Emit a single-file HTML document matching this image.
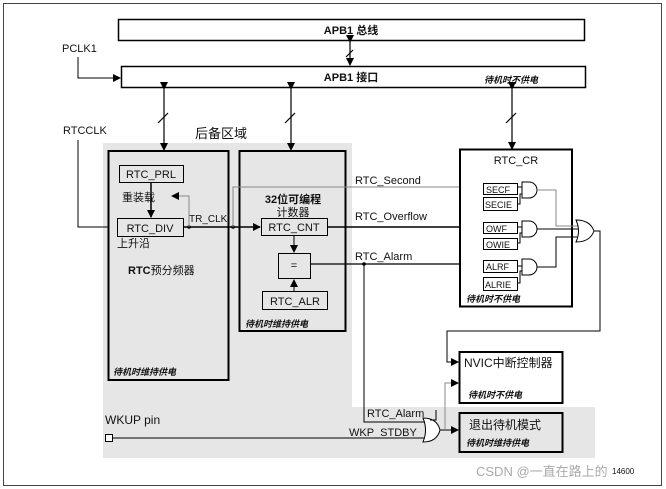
<!DOCTYPE html>
<html><head><meta charset="utf-8"><style>
html,body{margin:0;padding:0;background:#fff;}
svg{display:block;font-family:"Liberation Sans","Noto Sans CJK SC",sans-serif;}
.t{font-size:11px;fill:#111;}
.b{font-weight:bold;}
.i{font-size:9px;font-style:italic;font-weight:bold;fill:#111;}
</style></head><body>
<svg width="666" height="489" viewBox="0 0 666 489" xmlns="http://www.w3.org/2000/svg">
<defs>
<marker id="a" markerWidth="8" markerHeight="8" refX="7" refY="4" orient="auto" markerUnits="userSpaceOnUse"><path d="M0,0 L8,4 L0,8 z" fill="#000"/></marker>
<marker id="ag" markerWidth="8" markerHeight="8" refX="7" refY="4" orient="auto" markerUnits="userSpaceOnUse"><path d="M0,0 L8,4 L0,8 z" fill="#000"/></marker>
</defs>
<rect x="3.5" y="3.5" width="658" height="482" fill="#fff" stroke="#444" stroke-width="1"/>
<rect x="103" y="143" width="249" height="265" fill="#e6e6e6"/>
<rect x="103" y="407" width="492" height="51" fill="#e6e6e6"/>
<rect x="118.5" y="19.5" width="466" height="21" fill="#fff" stroke="#000" stroke-width="1.5"/>
<text x="351" y="34" class="t b" text-anchor="middle">APB1 总线</text>
<rect x="121.5" y="66.5" width="464" height="21" fill="#fff" stroke="#000" stroke-width="1.5"/>
<text x="351" y="81" class="t b" text-anchor="middle">APB1 接口</text>
<text x="484" y="83" class="i">待机时不供电</text>
<g stroke="#000" stroke-width="1.2">
<line x1="350" y1="42" x2="350" y2="65" marker-start="url(#a)" marker-end="url(#a)"/>
<line x1="346" y1="57" x2="353" y2="50"/>
<line x1="164" y1="89" x2="164" y2="150" marker-start="url(#a)" marker-end="url(#a)"/>
<line x1="158" y1="123" x2="168" y2="113"/>
<line x1="291" y1="89" x2="291" y2="150" marker-start="url(#a)" marker-end="url(#a)"/>
<line x1="285" y1="123" x2="295" y2="113"/>
<line x1="512" y1="89" x2="512" y2="149" marker-start="url(#a)" marker-end="url(#a)"/>
<line x1="506" y1="123" x2="516" y2="113"/>
</g>
<text x="62" y="52" class="t">PCLK1</text>
<path d="M78,57 V78 H120" fill="none" stroke="#000" marker-end="url(#a)"/>
<text x="63" y="134" class="t">RTCCLK</text>
<path d="M78,140 V227 H117" fill="none" stroke="#000" marker-end="url(#a)"/>
<text x="195" y="138" class="t" style="font-size:13px">后备区域</text>
<rect x="108.5" y="151" width="120" height="229" fill="#e6e6e6" stroke="#000" stroke-width="2"/>
<rect x="119.5" y="165.5" width="64" height="17" fill="#e6e6e6" stroke="#000"/>
<text x="151" y="178" class="t" text-anchor="middle">RTC_PRL</text>
<text x="122" y="201" class="t">重装载</text>
<line x1="151" y1="183" x2="151" y2="217" stroke="#000" stroke-width="1.5" marker-end="url(#a)"/>
<rect x="117.5" y="218.5" width="66" height="18" fill="#e6e6e6" stroke="#000"/>
<text x="150" y="232" class="t" text-anchor="middle">RTC_DIV</text>
<text x="117" y="247" class="t">上升沿</text>
<text x="128" y="274" class="t"><tspan class="b">RTC</tspan>预分频器</text>
<text x="113" y="375" class="i">待机时维持供电</text>
<rect x="239.5" y="151" width="106" height="180" fill="#e6e6e6" stroke="#000" stroke-width="2"/>
<text x="293" y="203" class="t b" text-anchor="middle">32位可编程</text>
<text x="293" y="216" class="t" text-anchor="middle">计数器</text>
<rect x="261.5" y="218.5" width="66" height="17" fill="#e6e6e6" stroke="#000"/>
<text x="294" y="231" class="t" text-anchor="middle">RTC_CNT</text>
<line x1="294" y1="236" x2="294" y2="252" stroke="#000" marker-end="url(#a)"/>
<rect x="278.5" y="253.5" width="32" height="25" fill="#e6e6e6" stroke="#000"/>
<text x="294" y="269" class="t" text-anchor="middle">=</text>
<line x1="294" y1="291" x2="294" y2="280" stroke="#000" marker-end="url(#a)"/>
<rect x="262.5" y="291.5" width="65" height="18" fill="#e6e6e6" stroke="#000"/>
<text x="295" y="305" class="t" text-anchor="middle">RTC_ALR</text>
<text x="245" y="327" class="i">待机时维持供电</text>
<text x="189" y="222" class="t" style="font-size:10px">TR_CLK</text>
<line x1="183" y1="227" x2="260" y2="227" stroke="#000" stroke-width="1.5" marker-end="url(#a)"/>
<circle cx="189" cy="227" r="1.8"/><circle cx="233" cy="227" r="1.8"/>
<path d="M189,227 V196 H172" fill="none" stroke="#888" marker-end="url(#ag)"/>
<path d="M233,227 V187 H482" fill="none" stroke="#888" marker-end="url(#ag)"/>
<text x="355" y="184" class="t">RTC_Second</text>
<line x1="328" y1="227" x2="482" y2="227" stroke="#000" stroke-width="1.5" marker-end="url(#a)"/>
<text x="355" y="220" class="t">RTC_Overflow</text>
<line x1="311" y1="264" x2="482" y2="264" stroke="#000" stroke-width="1.2" marker-end="url(#a)"/>
<text x="355" y="260" class="t">RTC_Alarm</text>
<circle cx="364" cy="264" r="1.8"/>
<rect x="460" y="149.5" width="112" height="157" fill="#fff" stroke="#000" stroke-width="2"/>
<text x="516" y="164" class="t" text-anchor="middle">RTC_CR</text>
<g stroke="#000" fill="#fff" font-size="9">
<rect x="483.5" y="183.5" width="34" height="11"/><rect x="483.5" y="197.5" width="34" height="13"/>
<rect x="483.5" y="222.5" width="34" height="11"/><rect x="483.5" y="238.5" width="34" height="11"/>
<rect x="483.5" y="260.5" width="34" height="12"/><rect x="483.5" y="277.5" width="34" height="13"/>
</g>
<g font-size="9" fill="#111">
<text x="486" y="193">SECF</text><text x="485" y="208">SECIE</text>
<text x="486" y="232">OWF</text><text x="486" y="248">OWIE</text>
<text x="486" y="270">ALRF</text><text x="485" y="288">ALRIE</text>
</g>
<g fill="#fff" stroke="#000">
<path d="M522,182 H529 A8,8 0 0 1 529,198 H522 Z"/>
<path d="M522,221 H529 A8,8 0 0 1 529,237 H522 Z"/>
<path d="M522,259 H529 A8,8 0 0 1 529,275 H522 Z"/>
</g>
<g fill="none" stroke="#000">
<path d="M518,187 H522 M518,204 H520 V194 H522"/>
<path d="M518,227 H522 M518,243 H520 V233 H522"/>
<path d="M518,266 H522 M518,283 H520 V271 H522"/>
<path d="M537,190 H556 V226 H579" stroke="#888"/>
<path d="M537,229 H581"/>
<path d="M537,267 H556 V237 H579"/>
<path d="M576,220 Q590,220 594,231 Q590,242 576,242 Q581,231 576,220 Z" fill="#fff"/>
<path d="M594,231 H600 V331 H447 V362 H458" marker-end="url(#a)"/>
</g>
<text x="466" y="302" class="i">待机时不供电</text>
<rect x="459.5" y="352" width="103" height="51" fill="#fff" stroke="#000" stroke-width="2"/>
<text x="464" y="367" class="t" style="font-size:12px">NVIC中断控制器</text>
<text x="468" y="398" class="i">待机时不供电</text>
<rect x="459.5" y="413" width="103" height="39" fill="#e6e6e6" stroke="#000" stroke-width="2"/>
<text x="469" y="429" class="t" style="font-size:12px">退出待机模式</text>
<text x="466" y="446" class="i">待机时维持供电</text>
<text x="105" y="424" class="t" style="font-size:12px">WKUP pin</text>
<rect x="105.5" y="434.5" width="7" height="7" fill="#fff" stroke="#000"/>
<line x1="113" y1="438" x2="426" y2="438" stroke="#000"/>
<text x="349" y="436" class="t">WKP_STDBY</text>
<path d="M364,264 V422 H426" fill="none" stroke="#000"/>
<text x="367" y="417" class="t">RTC_Alarm</text>
<path d="M423,418 Q437,418 440,430 Q437,442 423,442 Q428,430 423,418 Z" fill="#fff" stroke="#000"/>
<path d="M440,430 H458" stroke="#000" marker-end="url(#a)"/>
<path d="M445,430 V383 H458" fill="none" stroke="#888" marker-end="url(#ag)"/>
<path d="M430,420 H436 V410" fill="none" stroke="#000"/>
<text x="476" y="476" style="font-size:13px" fill="#aaa">CSDN @一直在路上的</text>
<text x="612" y="474" style="font-size:8px" fill="#111">14600</text>
</svg>
</body></html>
